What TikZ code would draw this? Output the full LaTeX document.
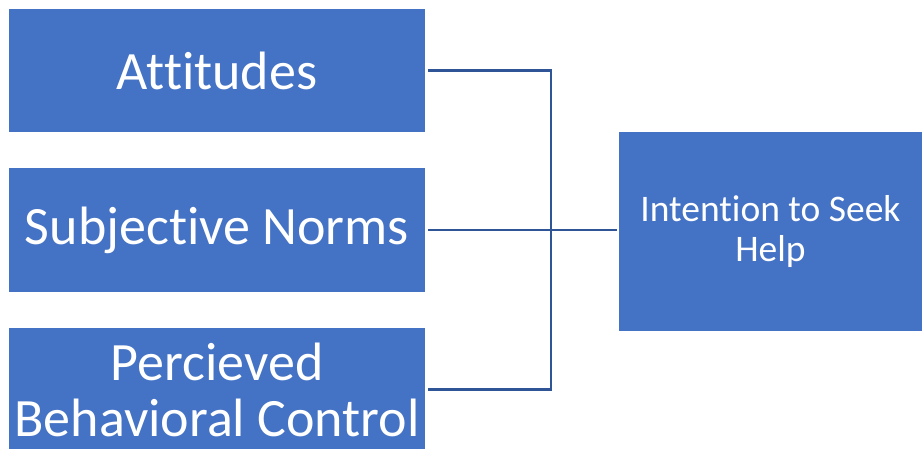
\documentclass[tikz,border=0pt]{standalone}
\usepackage{fontspec}
\setmainfont{Carlito}[Ligatures=NoCommon]
\usepackage{tikz}
\usetikzlibrary{positioning}
\definecolor{boxfill}{HTML}{4472C4}
\definecolor{linkcolor}{HTML}{2F5597}

\tikzset{
    factor/.style={fill=boxfill, text=white, minimum width=416pt, inner sep=0pt,
        align=center, font=\fontsize{54}{56}\selectfont},
    outcome/.style={fill=boxfill, text=white, minimum width=303pt, minimum height=199pt,
        inner sep=0pt, align=center, font=\fontsize{37.5}{40}\selectfont},
    link/.style={draw=linkcolor, line width=2.5pt}
}

\begin{document}
\begin{tikzpicture}[x=1pt, y=-1pt]
    \useasboundingbox (0,0) rectangle (922,449);

    % Nodes
    \node[factor, minimum height=123pt] (att) at (217,70.5) {Attitudes};
    \node[factor, minimum height=124pt] (sn) at (217,230) {Subjective Norms};
    \node[factor, minimum height=123pt] (pbc) at (217,389.5) {Percieved\\Behavioral Control};
    \node[outcome] (ish) at (770.5,231.5) {Intention to Seek\\Help};

    % Coordinates
    \coordinate (jtop) at (551,70.5);
    \coordinate (jbot) at (551,389.5);

    % Links
    \draw[link] ([xshift=3pt]att.east) -- (jtop) -- (jbot) -- ([xshift=3pt]pbc.east);
    \draw[link] ([xshift=3pt]sn.east) -- ([xshift=-2pt]ish.west |- sn.east);
\end{tikzpicture}
\end{document}
